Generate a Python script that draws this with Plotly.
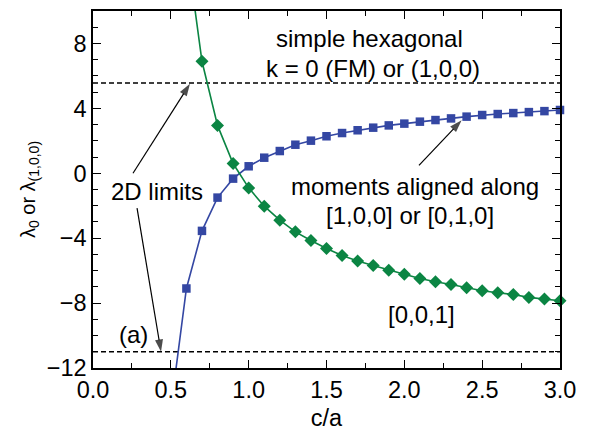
import plotly.graph_objects as go

# c/a values and eigenvalues for moments along [1,0,0] (blue squares)
ca_100 = [0.5, 0.6, 0.7, 0.8, 0.9, 1.0, 1.1, 1.2, 1.3, 1.4, 1.5, 1.6, 1.7, 1.8, 1.9,
          2.0, 2.1, 2.2, 2.3, 2.4, 2.5, 2.6, 2.7, 2.8, 2.9, 3.0]
lam_100 = [-14.5, -7.10, -3.55, -1.50, -0.33, 0.43, 0.96, 1.37, 1.76, 2.01, 2.28, 2.48,
           2.65, 2.81, 2.95, 3.06, 3.18, 3.28, 3.38, 3.49, 3.59, 3.65, 3.71, 3.77, 3.83, 3.90]

# c/a values and eigenvalues for moments along [0,0,1] (green diamonds)
ca_001 = [0.6, 0.7, 0.8, 0.9, 1.0, 1.1, 1.2, 1.3, 1.4, 1.5, 1.6, 1.7, 1.8, 1.9,
          2.0, 2.1, 2.2, 2.3, 2.4, 2.5, 2.6, 2.7, 2.8, 2.9, 3.0]
lam_001 = [14.0, 6.90, 2.95, 0.60, -0.90, -2.03, -2.89, -3.61, -4.14, -4.64, -5.07, -5.40,
           -5.68, -5.97, -6.22, -6.48, -6.69, -6.85, -7.06, -7.24, -7.36, -7.47, -7.65, -7.75, -7.86]

# 2D limits (dashed horizontal lines)
limit_x = [0.0, 3.0]
limits = [5.56, -11.0]

XR = [0.0, 3.0]
YR = [-12.0, 10.0]

BLUE = "#3447a3"
GREEN = "#0b8543"
FONT = "Liberation Sans, Arial, sans-serif"


def in_range(xs, ys):
    pts = [(x, y) for x, y in zip(xs, ys) if XR[0] <= x <= XR[1] and YR[0] <= y <= YR[1]]
    return [p[0] for p in pts], [p[1] for p in pts]


fig = go.Figure()

for lv in limits:
    fig.add_trace(go.Scatter(x=limit_x, y=[lv, lv], mode="lines",
                             line=dict(color="black", width=1.4, dash="5px,3px"),
                             showlegend=False, hoverinfo="skip"))

# lines (clipped)
fig.add_trace(go.Scatter(x=ca_100, y=lam_100, mode="lines",
                         line=dict(color=BLUE, width=1.6), showlegend=False))
fig.add_trace(go.Scatter(x=ca_001, y=lam_001, mode="lines",
                         line=dict(color=GREEN, width=1.6), showlegend=False))

# markers (only in-range, not clipped at edge)
bx, by = in_range(ca_100, lam_100)
gx, gy = in_range(ca_001, lam_001)
fig.add_trace(go.Scatter(x=bx, y=by, mode="markers", cliponaxis=False,
                         marker=dict(symbol="square", size=8.5, color=BLUE),
                         showlegend=False))
fig.add_trace(go.Scatter(x=gx, y=gy, mode="markers", cliponaxis=False,
                         marker=dict(symbol="diamond", size=10, color=GREEN),
                         showlegend=False))

tfont = dict(family=FONT, size=24, color="black")

texts = [
    ("simple hexagonal", 1.773, 8.31),
    ("k = 0 (FM) or (1,0,0)", 1.80, 6.46),
    ("2D limits", 0.41, -1.11),
    ("moments aligned along", 2.07, -0.80),
    ("[1,0,0] or [0,1,0]", 2.034, -2.58),
    ("[0,0,1]", 2.113, -8.68),
    ("(a)", 0.257, -9.91),
]
for t, x, y in texts:
    fig.add_annotation(text=t, x=x, y=y, xref="x", yref="y", showarrow=False,
                       font=tfont, xanchor="center", yanchor="middle")

# pointer arrows (tail -> head), drawn as line traces with an arrow marker at the head
arrows = [
    ((0.257, 0.0), (0.623, 5.52)),
    ((0.283, -2.15), (0.437, -11.0)),
    ((2.094, 0.49), (2.368, 3.26)),
]
for (tx, ty), (hx, hy) in arrows:
    fig.add_trace(go.Scatter(x=[tx, hx], y=[ty, hy], mode="lines+markers",
                             line=dict(color="black", width=1.2),
                             marker=dict(symbol=["circle", "arrow"], size=[0, 13],
                                         color="black", angleref="previous",
                                         line=dict(width=0)),
                             cliponaxis=False, showlegend=False, hoverinfo="skip"))

axis_common = dict(showline=True, linecolor="black", linewidth=1.5, mirror="allticks",
                   ticks="inside", ticklen=8, tickwidth=1.3, tickcolor="black",
                   showgrid=False, zeroline=False, automargin=False,
                   tickfont=dict(family=FONT, size=23.5, color="black"))

fig.update_xaxes(range=XR, tick0=0, dtick=0.5, tickformat=".1f",
                 minor=dict(dtick=0.25, ticks="inside", ticklen=5, tickwidth=1.3,
                            tickcolor="black", showgrid=False),
                 title=dict(text="c/a", font=dict(family=FONT, size=23.5, color="black"),
                            standoff=9),
                 **axis_common)
fig.update_yaxes(range=YR, tick0=-12, dtick=4,
                 minor=dict(dtick=1, ticks="inside", ticklen=5, tickwidth=1.3,
                            tickcolor="black", showgrid=False),
                 title=dict(text="λ<sub>0</sub> or λ<sub>(1,0,0)</sub>",
                            font=dict(family=FONT, size=20, color="black"), standoff=6),
                 **axis_common)

fig.update_layout(width=589, height=431, margin=dict(l=93, r=29, t=11, b=63),
                  plot_bgcolor="white", paper_bgcolor="white",
                  font=dict(family=FONT, color="black"))

fig.write_html("out.html")
